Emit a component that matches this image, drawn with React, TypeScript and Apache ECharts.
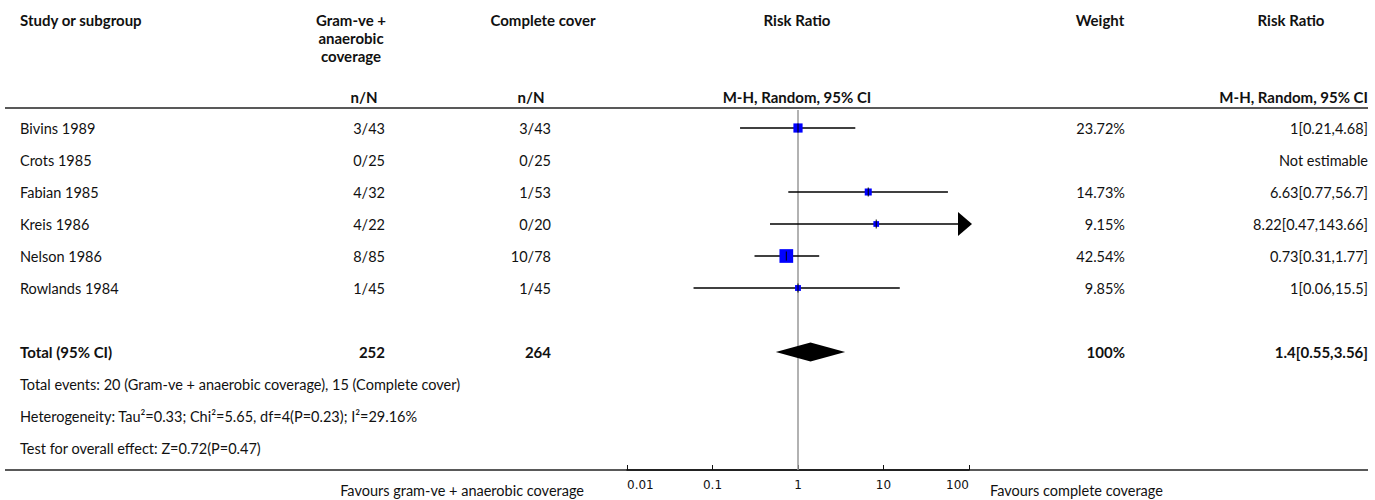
import React, { useEffect, useRef } from "react";
import * as echarts from "echarts";

const studies = ["Bivins 1989", "Crots 1985", "Fabian 1985", "Kreis 1986", "Nelson 1986", "Rowlands 1984"];
const expEvents = ["3/43", "0/25", "4/32", "4/22", "8/85", "1/45"];
const ctrlEvents = ["3/43", "0/25", "1/53", "0/20", "10/78", "1/45"];
const rr = [1, null, 6.63, 8.22, 0.73, 1];
const rrLow = [0.21, null, 0.77, 0.47, 0.31, 0.06];
const rrHigh = [4.68, null, 56.7, 143.66, 1.77, 15.5];
const weights = [23.72, null, 14.73, 9.15, 42.54, 9.85];
const weightLabels = ["23.72%", "", "14.73%", "9.15%", "42.54%", "9.85%"];
const rrLabels = ["1[0.21,4.68]", "Not estimable", "6.63[0.77,56.7]", "8.22[0.47,143.66]", "0.73[0.31,1.77]", "1[0.06,15.5]"];
const totalRow = { label: "Total (95% CI)", exp: "252", ctrl: "264", weight: "100%", rrText: "1.4[0.55,3.56]" };
const totalRR = [1.4, 0.55, 3.56];
const footnotes = [
  "Total events: 20 (Gram-ve + anaerobic coverage), 15 (Complete cover)",
  "Heterogeneity: Tau\u00b2=0.33; Chi\u00b2=5.65, df=4(P=0.23); I\u00b2=29.16%",
  "Test for overall effect: Z=0.72(P=0.47)",
];
const xTicks = [0.01, 0.1, 1, 10, 100];
const favoursLeft = "Favours gram-ve + anaerobic coverage";
const favoursRight = "Favours complete coverage";

const FONT = "Lato, 'Source Sans Pro', 'Noto Sans', sans-serif";
const FS = 14.5;
const FSB = 15;
const ROW0 = 128;
const ROWH = 32;

export default function App() {
  const ref = useRef<HTMLDivElement>(null);
  useEffect(() => {
    if (!ref.current) return;
    const chart = echarts.init(ref.current, null, { renderer: "svg" });

    const txt = (text: string, x: number, y: number, align: string, bold = false) => ({
      type: "text",
      x,
      y,
      silent: true,
      style: {
        text,
        textAlign: align,
        textVerticalAlign: "middle",
        fontFamily: FONT,
        fontSize: bold ? FSB : FS,
        fontWeight: bold ? "bold" : "normal",
        fill: "#111",
      },
    });

    const graphics: any[] = [];
    graphics.push(txt("Study or subgroup", 20, 20, "left", true));
    graphics.push(txt("Gram-ve +", 351, 20, "center", true));
    graphics.push(txt("anaerobic", 351, 38, "center", true));
    graphics.push(txt("coverage", 351, 56, "center", true));
    graphics.push(txt("Complete cover", 543, 20, "center", true));
    graphics.push(txt("Risk Ratio", 797, 20, "center", true));
    graphics.push(txt("Weight", 1100, 20, "center", true));
    graphics.push(txt("Risk Ratio", 1291, 20, "center", true));
    graphics.push(txt("n/N", 364, 97, "center", true));
    graphics.push(txt("n/N", 531, 97, "center", true));
    graphics.push(txt("M-H, Random, 95% CI", 797, 97, "center", true));
    graphics.push(txt("M-H, Random, 95% CI", 1368, 97, "right", true));
    graphics.push({ type: "line", shape: { x1: 5, y1: 108, x2: 1368, y2: 108 }, style: { stroke: "#222", lineWidth: 1.5 } });
    graphics.push({ type: "line", shape: { x1: 5, y1: 470, x2: 1368, y2: 470 }, style: { stroke: "#222", lineWidth: 1.5 } });

    studies.forEach((s, i) => {
      const y = ROW0 + ROWH * i;
      graphics.push(txt(s, 20, y, "left"));
      graphics.push(txt(expEvents[i], 385, y, "right"));
      graphics.push(txt(ctrlEvents[i], 551, y, "right"));
      if (weightLabels[i]) graphics.push(txt(weightLabels[i], 1125, y, "right"));
      graphics.push(txt(rrLabels[i], 1368, y, "right"));
    });
    const yT = ROW0 + ROWH * 7;
    graphics.push(txt(totalRow.label, 20, yT, "left", true));
    graphics.push(txt(totalRow.exp, 385, yT, "right", true));
    graphics.push(txt(totalRow.ctrl, 551, yT, "right", true));
    graphics.push(txt(totalRow.weight, 1125, yT, "right", true));
    graphics.push(txt(totalRow.rrText, 1368, yT, "right", true));
    footnotes.forEach((f, i) => graphics.push(txt(f, 20, ROW0 + ROWH * (8 + i), "left")));
    graphics.push(txt(favoursLeft, 584, 490, "right"));
    graphics.push(txt(favoursRight, 990, 490, "left"));

    const studyData: any[] = [];
    studies.forEach((s, i) => {
      if (rr[i] != null) studyData.push([rr[i], rrLow[i], rrHigh[i], i, weights[i]]);
    });

    const yMin = (110 - ROW0) / ROWH;
    const yMax = (470 - ROW0) / ROWH;

    chart.setOption({
      animation: false,
      grid: { left: 627, right: 1375 - 969, top: 110, bottom: 30 },
      xAxis: {
        type: "log",
        logBase: 10,
        min: 0.01,
        max: 100,
        splitLine: { show: false },
        axisLine: { show: true, onZero: false, lineStyle: { color: "#111", width: 1.5 } },
        axisTick: { show: true, inside: true, length: 5, lineStyle: { color: "#111" } },
        axisLabel: {
          color: "#111",
          fontSize: 12,
          fontFamily: "'DejaVu Sans', sans-serif",
          margin: 9,
          alignMinLabel: "left",
          alignMaxLabel: "right",
          formatter: (v: number) => {
            const n = parseFloat(v.toPrecision(6));
            return xTicks.indexOf(n) >= 0 ? String(n) : "";
          },
        },
      },
      yAxis: {
        type: "value",
        inverse: true,
        min: yMin,
        max: yMax,
        show: false,
      },
      graphic: graphics,
      series: [
        {
          type: "line",
          data: [[1, yMin], [1, yMax]],
          symbol: "none",
          lineStyle: { color: "#999", width: 1.5 },
          silent: true,
          z: 1,
        },
        {
          type: "custom",
          z: 3,
          data: studyData,
          encode: { x: 0, y: 3 },
          renderItem: (params: any, api: any) => {
            const r = api.value(0);
            const l = api.value(1);
            const h = api.value(2);
            const row = api.value(3);
            const w = api.value(4);
            const pc = api.coord([r, row]);
            const pl = api.coord([l, row]);
            const clipped = h > 100;
            const ph = api.coord([Math.min(h, 100), row]);
            const y = pc[1];
            const s = 3.5 + w * 0.24;
            const children: any[] = [];
            const lineEnd = clipped ? ph[0] - 11 : ph[0];
            children.push({
              type: "line",
              shape: { x1: pl[0], y1: y, x2: lineEnd, y2: y },
              style: { stroke: "#000", lineWidth: 1.5 },
            });
            if (clipped) {
              children.push({
                type: "polygon",
                shape: { points: [[ph[0] - 11, y - 12], [ph[0] + 3, y], [ph[0] - 11, y + 12]] },
                style: { fill: "#000" },
              });
            }
            children.push({
              type: "rect",
              shape: { x: pc[0] - s / 2, y: y - s / 2, width: s, height: s },
              style: { fill: "#0000ff" },
            });
            children.push({
              type: "line",
              shape: { x1: pc[0], y1: y - 4.5, x2: pc[0], y2: y + 4.5 },
              style: { stroke: "#000", lineWidth: 1 },
            });
            return { type: "group", children };
          },
        },
        {
          type: "custom",
          z: 3,
          data: [[totalRR[0], totalRR[1], totalRR[2], 7]],
          encode: { x: 0, y: 3 },
          renderItem: (params: any, api: any) => {
            const c = api.coord([api.value(0), api.value(3)]);
            const l = api.coord([api.value(1), api.value(3)]);
            const h = api.coord([api.value(2), api.value(3)]);
            const y = c[1];
            return {
              type: "polygon",
              shape: { points: [[l[0], y], [c[0], y - 9.5], [h[0], y], [c[0], y + 9.5]] },
              style: { fill: "#000" },
            };
          },
        },
      ],
    });
    return () => chart.dispose();
  }, []);
  return (
    <div
      ref={ref}
      style={{ position: "fixed", left: 0, top: 0, width: 1375, height: 500, background: "#fff" }}
    />
  );
}
